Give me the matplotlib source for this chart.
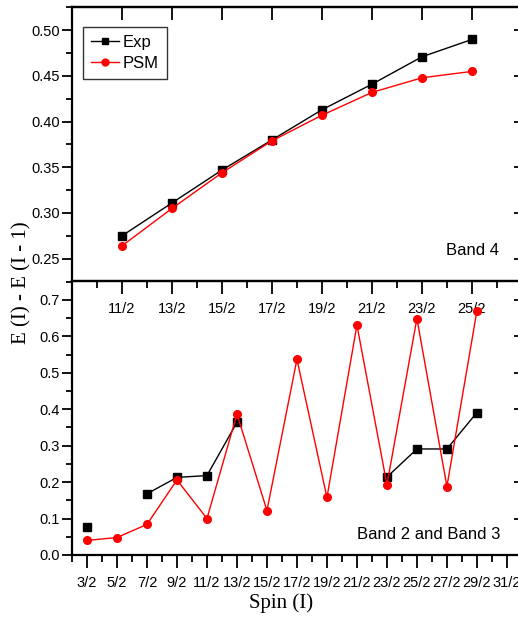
import numpy as np
import matplotlib
matplotlib.use('Agg')
import matplotlib.pyplot as plt
from matplotlib.ticker import MultipleLocator, FixedLocator, FormatStrFormatter

# Band 4 (top panel)
spin_b4 = [5.5, 6.5, 7.5, 8.5, 9.5, 10.5, 11.5, 12.5]
spin_b4_labels = ['11/2', '13/2', '15/2', '17/2', '19/2', '21/2', '23/2', '25/2']
exp_b4 = [0.275, 0.311, 0.347, 0.380, 0.413, 0.441, 0.471, 0.490]
psm_b4 = [0.264, 0.305, 0.344, 0.379, 0.407, 0.432, 0.448, 0.455]

# Band 2 and Band 3 (bottom panel)
spin_b23 = [1.5, 2.5, 3.5, 4.5, 5.5, 6.5, 7.5, 8.5, 9.5, 10.5, 11.5, 12.5, 13.5, 14.5]
exp_b23 = [0.078, np.nan, 0.168, 0.213, 0.218, 0.364, np.nan, np.nan, np.nan, np.nan,
           0.214, 0.291, 0.291, 0.391]
psm_b23 = [0.040, 0.048, 0.084, 0.206, 0.100, 0.387, 0.122, 0.537, 0.158, 0.631,
           0.193, 0.649, 0.188, 0.670]
bottom_ticks = [1.5, 2.5, 3.5, 4.5, 5.5, 6.5, 7.5, 8.5, 9.5, 10.5, 11.5, 12.5, 13.5, 14.5, 15.5]
bottom_labels = ['3/2', '5/2', '7/2', '9/2', '11/2', '13/2', '15/2', '17/2', '19/2',
                 '21/2', '23/2', '25/2', '27/2', '29/2', '31/2']

plt.rcParams['font.family'] = ['Liberation Sans', 'DejaVu Sans']
plt.rcParams['axes.linewidth'] = 1.6

W, H = 518, 621
fig = plt.figure(figsize=(W / 100, H / 100), dpi=100)

left = 72 / W
right = 521 / W
y_div = 1 - 281 / H
ax1 = fig.add_axes([left, y_div, right - left, (1 - 7 / H) - y_div])
ax2 = fig.add_axes([left, 1 - 555 / H, right - left, y_div - (1 - 555 / H)])
ax2.patch.set_visible(False)  # keep top panel's tick labels visible

# top panel
ax1.plot(spin_b4, exp_b4, color='black', marker='s', ms=5.5, lw=1.0, label='Exp')
ax1.plot(spin_b4, psm_b4, color='red', marker='o', ms=5.5, lw=1.0, label='PSM')
ax1.set_xlim(4.5, 13.48)
ax1.set_ylim(0.2255, 0.5255)
ax1.xaxis.set_major_locator(FixedLocator(spin_b4))
ax1.set_xticklabels(spin_b4_labels)
ax1.xaxis.set_minor_locator(MultipleLocator(0.5))
ax1.yaxis.set_major_locator(MultipleLocator(0.05))
ax1.yaxis.set_minor_locator(MultipleLocator(0.025))
ax1.yaxis.set_major_formatter(FormatStrFormatter('%.2f'))
ax1.tick_params(axis='both', which='major', direction='out', length=7, width=1.3,
                labelsize=10.5, pad=2)
ax1.tick_params(axis='both', which='minor', direction='out', length=4, width=1.3)
ax1.tick_params(axis='x', which='major', length=9, pad=6)
ax1.tick_params(axis='x', which='minor', length=5)
# inward major ticks on top / right
ax1t = ax1.secondary_xaxis('top')
ax1t.set_xticks(spin_b4)
ax1t.tick_params(direction='in', length=9, width=1.3, labeltop=False)
ax1r = ax1.secondary_yaxis('right')
ax1r.set_yticks([0.25, 0.30, 0.35, 0.40, 0.45, 0.50])
ax1r.tick_params(direction='in', length=5, width=1.3, labelright=False)
ax1.legend(loc='upper left', bbox_to_anchor=(0.0245, 0.927), fontsize=12, frameon=True,
           fancybox=False, edgecolor='black', handlelength=1.7, borderpad=0.45,
           handletextpad=0.25, labelspacing=0.4, borderaxespad=0, markerscale=0.9)
ax1.get_legend().get_frame().set_linewidth(1.0)
ax1.text(0.952, 0.11, 'Band 4', transform=ax1.transAxes, ha='right', va='center', fontsize=12)

# bottom panel
ax2.plot(spin_b23, exp_b23, color='black', marker='s', ms=5.5, lw=1.0)
ax2.plot(spin_b23, psm_b23, color='red', marker='o', ms=5.5, lw=1.0)
ax2.set_xlim(1.0, 15.97)
ax2.set_ylim(0.0, 0.752)
ax2.xaxis.set_major_locator(FixedLocator(bottom_ticks))
ax2.set_xticklabels(bottom_labels)
ax2.xaxis.set_minor_locator(MultipleLocator(0.5))
ax2.yaxis.set_major_locator(MultipleLocator(0.1))
ax2.yaxis.set_minor_locator(MultipleLocator(0.05))
ax2.yaxis.set_major_formatter(FormatStrFormatter('%.1f'))
ax2.tick_params(axis='both', which='major', direction='out', length=7, width=1.3,
                labelsize=10.5, pad=2)
ax2.tick_params(axis='both', which='minor', direction='out', length=4, width=1.3)
ax2.tick_params(axis='x', which='major', length=9, pad=6)
ax2.tick_params(axis='x', which='minor', length=5)
ax2r = ax2.secondary_yaxis('right')
ax2r.set_yticks([0.1, 0.2, 0.3, 0.4, 0.5, 0.6, 0.7])
ax2r.tick_params(direction='in', length=5, width=1.3, labelright=False)
ax2.text(0.955, 0.075, 'Band 2 and Band 3', transform=ax2.transAxes, ha='right',
         va='center', fontsize=12)

fig.text(22 / W, 1 - 283 / H, 'E (I) - E (I - 1)', rotation=90, ha='center', va='center',
         fontsize=15, family='Liberation Serif')
fig.text(281 / W, 1 - 603 / H, 'Spin (I)', ha='center', va='center', fontsize=15,
         family='Liberation Serif')

fig.savefig('out.png', dpi=100)
